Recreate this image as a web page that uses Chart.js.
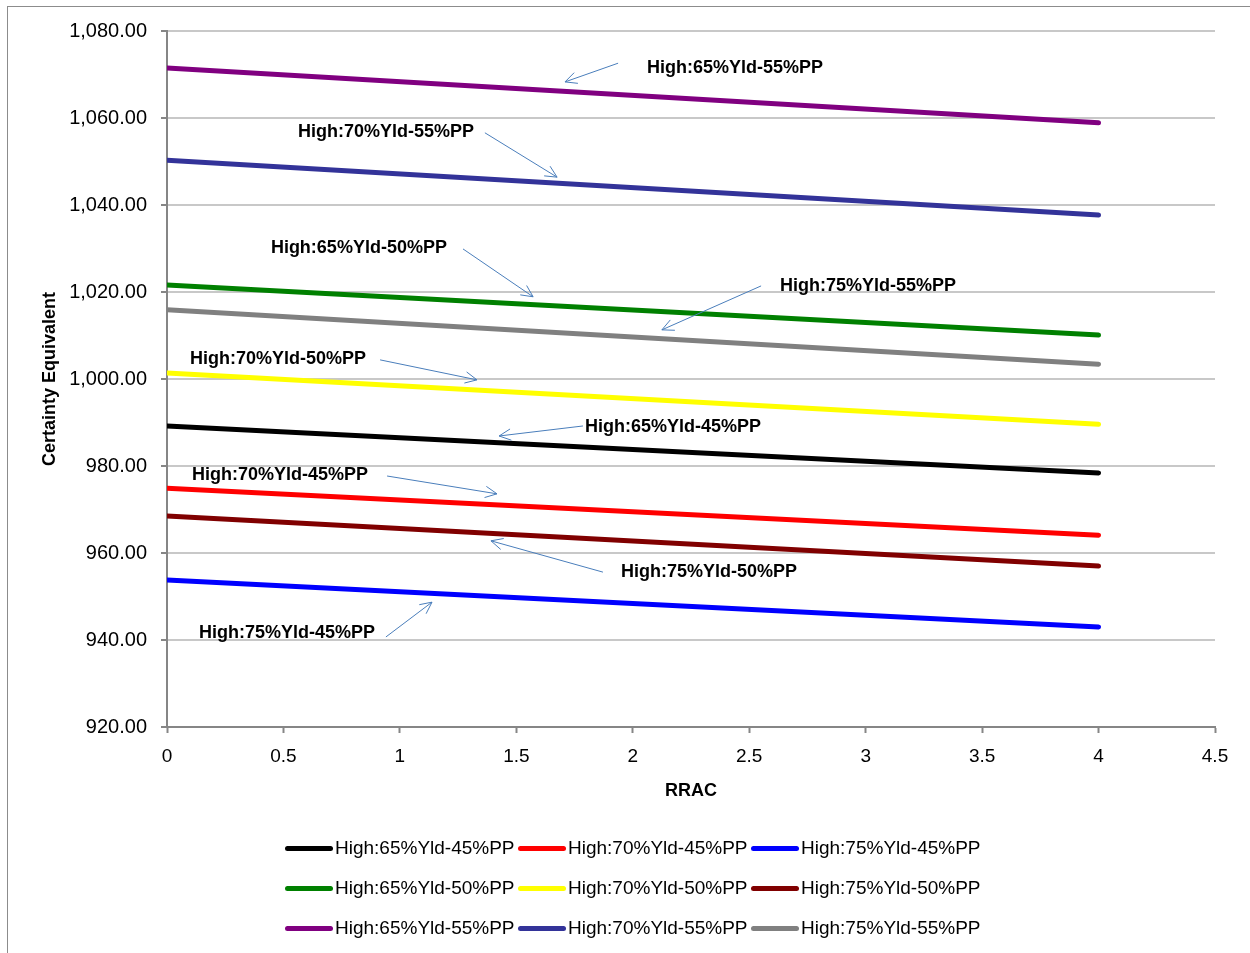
<!DOCTYPE html>
<html lang="en">
<head>
  <meta charset="UTF-8">
  <title>Certainty Equivalent vs RRAC</title>
  <script src="https://cdn.jsdelivr.net/npm/chart.js"></script>
  <style>
    body { margin: 0; background: #fff; font-family: "Liberation Sans", Arial, sans-serif; }
    #frame { position: absolute; left: 7px; top: 6px; width: 1300px; height: 1000px;
             border: 1.5px solid #8c8c8c; }
    #wrap { position: absolute; left: 0; top: 0; width: 1250px; height: 953px; }
    #legend { position: absolute; left: 285px; top: 828px;
              display: grid; grid-template-columns: 233px 233px 233px; grid-auto-rows: 40px; }
    .item { display: flex; align-items: center; font-size: 19px; color: #000; white-space: nowrap; }
    .swatch { width: 48px; height: 5px; border-radius: 3px; margin-right: 2px; flex: none; }
  </style>
</head>
<body>
  <div id="frame"></div>
  <div id="wrap"><canvas id="chart" width="1250" height="953"></canvas></div>
  <div id="legend"></div>

  <script>
    // RRAC values (x)
    const rrac = [0, 4];

    // series names, in legend order
    const seriesNames = [
      'High:65%Yld-45%PP', 'High:70%Yld-45%PP', 'High:75%Yld-45%PP',
      'High:65%Yld-50%PP', 'High:70%Yld-50%PP', 'High:75%Yld-50%PP',
      'High:65%Yld-55%PP', 'High:70%Yld-55%PP', 'High:75%Yld-55%PP'
    ];

    // certainty equivalents at RRAC = 0 and RRAC = 4
    const ce65_45 = [989.2, 978.4];
    const ce70_45 = [974.9, 964.1];
    const ce75_45 = [953.8, 943.0];
    const ce65_50 = [1021.6, 1010.1];
    const ce70_50 = [1001.4, 989.6];
    const ce75_50 = [968.5, 957.0];
    const ce65_55 = [1071.5, 1058.9];
    const ce70_55 = [1050.3, 1037.7];
    const ce75_55 = [1015.9, 1003.4];

    const seriesValues = [ce65_45, ce70_45, ce75_45, ce65_50, ce70_50, ce75_50, ce65_55, ce70_55, ce75_55];
    const seriesColors = ['#000000', '#ff0000', '#0000ff', '#008000', '#ffff00', '#800000', '#800080', '#333399', '#808080'];

    // callout labels with arrows, in data coordinates: [label, textX, textY, fromX, fromY, toX, toY]
    const callouts = [
      ['High:65%Yld-55%PP', 2.439, 1071.5, 1.937, 1072.6, 1.709, 1068.3],
      ['High:70%Yld-55%PP', 0.940, 1056.8, 1.365, 1056.6, 1.675, 1046.4],
      ['High:65%Yld-50%PP', 0.824, 1030.1, 1.271, 1029.9, 1.572, 1018.9],
      ['High:75%Yld-55%PP', 3.010, 1021.4, 2.551, 1021.4, 2.125, 1011.3],
      ['High:70%Yld-50%PP', 0.477, 1004.6, 0.915, 1004.4, 1.331, 999.8],
      ['High:65%Yld-45%PP', 2.173, 989.0, 1.786, 989.2, 1.426, 986.9],
      ['High:70%Yld-45%PP', 0.485, 977.9, 0.945, 977.7, 1.417, 973.6],
      ['High:75%Yld-50%PP', 2.327, 955.6, 1.872, 955.6, 1.391, 962.8],
      ['High:75%Yld-45%PP', 0.515, 941.6, 0.940, 940.7, 1.138, 948.7]
    ];

    const datasets = seriesNames.map((name, i) => ({
      label: name,
      data: rrac.map((x, j) => ({ x: x, y: seriesValues[i][j] })),
      borderColor: seriesColors[i],
      backgroundColor: seriesColors[i],
      borderWidth: 5,
      borderCapStyle: 'round',
      pointRadius: 0,
      tension: 0
    }));

    // draws the bold callout labels and the thin blue arrows
    const calloutPlugin = {
      id: 'callouts',
      afterDatasetsDraw(chart) {
        const ctx = chart.ctx;
        const xs = chart.scales.x, ys = chart.scales.y;
        ctx.save();
        ctx.font = 'bold 18px "Liberation Sans", Arial, sans-serif';
        ctx.textAlign = 'center';
        ctx.textBaseline = 'middle';
        ctx.fillStyle = '#000';
        ctx.strokeStyle = '#4a7ebb';
        ctx.lineWidth = 1;
        callouts.forEach(c => {
          ctx.fillText(c[0], xs.getPixelForValue(c[1]), ys.getPixelForValue(c[2]));
          const x1 = xs.getPixelForValue(c[3]), y1 = ys.getPixelForValue(c[4]);
          const x2 = xs.getPixelForValue(c[5]), y2 = ys.getPixelForValue(c[6]);
          const a = Math.atan2(y2 - y1, x2 - x1);
          const h = 13;
          ctx.beginPath();
          ctx.moveTo(x1, y1);
          ctx.lineTo(x2, y2);
          ctx.moveTo(x2 - h * Math.cos(a - 0.45), y2 - h * Math.sin(a - 0.45));
          ctx.lineTo(x2, y2);
          ctx.lineTo(x2 - h * Math.cos(a + 0.45), y2 - h * Math.sin(a + 0.45));
          ctx.stroke();
        });
        ctx.restore();
      }
    };

    Chart.defaults.font.family = '"Liberation Sans", Arial, sans-serif';
    Chart.defaults.color = '#000';

    new Chart(document.getElementById('chart').getContext('2d'), {
      type: 'line',
      data: { datasets: datasets },
      options: {
        responsive: false,
        animation: false,
        layout: { padding: { top: 31, right: 35, bottom: 147, left: 0 } },
        plugins: { legend: { display: false }, tooltip: { enabled: false } },
        scales: {
          x: {
            type: 'linear',
            min: 0, max: 4.5,
            afterFit: s => { s.height = 79; },
            ticks: { stepSize: 0.5, font: { size: 19 }, padding: 12, callback: v => String(v) },
            grid: { drawOnChartArea: false, tickLength: 6, tickColor: '#868686', tickWidth: 2 },
            border: { color: '#868686', width: 2 },
            title: { display: true, text: 'RRAC', font: { size: 18, weight: 'bold' }, padding: { top: 10 } }
          },
          y: {
            min: 920, max: 1080,
            afterFit: s => { s.width = 167; },
            ticks: {
              stepSize: 20, font: { size: 20 }, padding: 14,
              callback: v => v.toLocaleString('en-US', { minimumFractionDigits: 2, maximumFractionDigits: 2 })
            },
            grid: { color: '#c8c8c8', lineWidth: 2, tickLength: 6, tickColor: '#868686', tickWidth: 2 },
            border: { color: '#868686', width: 2 },
            title: { display: true, text: 'Certainty Equivalent', font: { size: 18, weight: 'bold' }, padding: { top: 39 } }
          }
        }
      },
      plugins: [calloutPlugin]
    });

    // legend below the chart, three per row
    const legend = document.getElementById('legend');
    seriesNames.forEach((name, i) => {
      const item = document.createElement('div');
      item.className = 'item';
      item.innerHTML = '<span class="swatch" style="background:' + seriesColors[i] + '"></span>' + name;
      legend.appendChild(item);
    });
  </script>
</body>
</html>
